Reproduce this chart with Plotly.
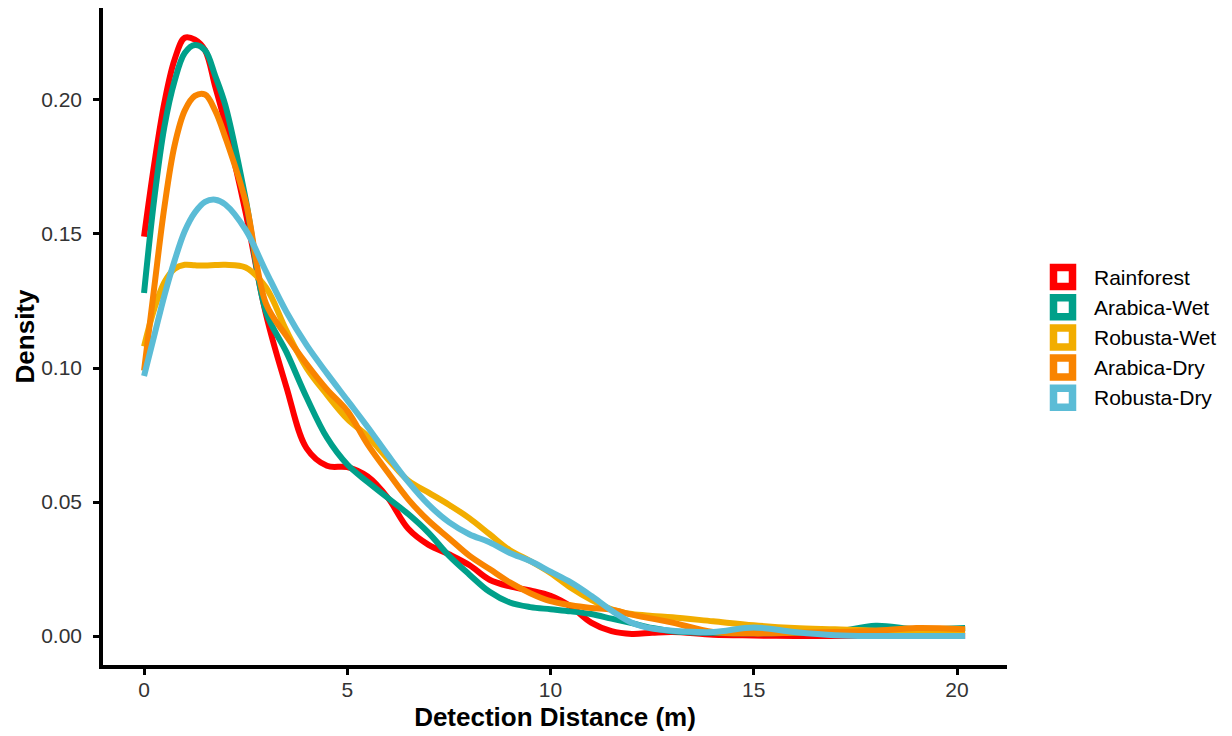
import plotly.graph_objects as go

# ---- data ----
distance = [0, 0.25, 0.5, 0.75, 1.0, 1.25, 1.5, 1.75, 2.0, 2.5, 3.0, 3.5, 4.0, 4.5, 5.0,
            5.5, 6.0, 6.5, 7.0, 7.5, 8.0, 8.5, 9.0, 9.5, 10.0, 10.5, 11.0, 11.5, 12.0,
            12.5, 13.0, 14.0, 15.0, 16.0, 17.0, 18.0, 19.0, 20.2]

rainforest = [0.149, 0.176, 0.199, 0.215, 0.2232, 0.2225, 0.2185, 0.205, 0.191, 0.158, 0.120,
              0.093, 0.070, 0.0635, 0.063, 0.0595, 0.0515, 0.040, 0.034, 0.0305, 0.0265,
              0.021, 0.0185, 0.017, 0.015, 0.011, 0.005, 0.0018, 0.0008, 0.0012, 0.0015,
              0.0005, 0.0002, 0.0, 0.0, 0.0, 0.0, 0.0]

arabica_wet = [0.128, 0.163, 0.190, 0.207, 0.2175, 0.2205, 0.2185, 0.209, 0.198, 0.163, 0.121,
               0.106, 0.089, 0.074, 0.064, 0.0575, 0.0515, 0.0455, 0.0385, 0.030, 0.023,
               0.0165, 0.0125, 0.0108, 0.0100, 0.0092, 0.0082, 0.0065, 0.0048, 0.003, 0.0018,
               0.0012, 0.001, 0.0012, 0.0015, 0.0038, 0.0025, 0.003]

robusta_wet = [0.108, 0.122, 0.132, 0.137, 0.1385, 0.1383, 0.1382, 0.1384, 0.1385, 0.1375,
               0.130, 0.114, 0.100, 0.090, 0.081, 0.0745, 0.066, 0.058, 0.0535, 0.049, 0.044,
               0.038, 0.032, 0.028, 0.0235, 0.018, 0.0135, 0.010, 0.0082, 0.0075, 0.007,
               0.0055, 0.004, 0.003, 0.0025, 0.002, 0.002, 0.002]

arabica_dry = [0.099, 0.130, 0.160, 0.183, 0.196, 0.2015, 0.202, 0.196, 0.186, 0.162, 0.124,
               0.112, 0.1015, 0.092, 0.084, 0.0715, 0.061, 0.051, 0.043, 0.0365, 0.030, 0.025,
               0.020, 0.016, 0.013, 0.0115, 0.0105, 0.0098, 0.008, 0.0065, 0.005, 0.0015,
               0.001, 0.0012, 0.0015, 0.002, 0.003, 0.0025]

robusta_dry = [0.097, 0.112, 0.127, 0.140, 0.151, 0.158, 0.162, 0.1628, 0.161, 0.1515, 0.136,
               0.121, 0.1085, 0.098, 0.088, 0.078, 0.0675, 0.0575, 0.049, 0.0425, 0.038, 0.035,
               0.031, 0.028, 0.024, 0.020, 0.015, 0.0095, 0.005, 0.0028, 0.002, 0.0015,
               0.0032, 0.0015, 0.0003, 0.0, 0.0, 0.0]

habitats = ["Rainforest", "Arabica-Wet", "Robusta-Wet", "Arabica-Dry", "Robusta-Dry"]
series = [rainforest, arabica_wet, robusta_wet, arabica_dry, robusta_dry]
colors = ["#FF0000", "#00A08A", "#F2AD00", "#F98400", "#5BBCD6"]

x_ticks = [0, 5, 10, 15, 20]
y_ticks = [0.00, 0.05, 0.10, 0.15, 0.20]

FONT = "Liberation Sans, Arial, sans-serif"
W, H = 1232, 736
ML, MR, MT, MB = 103, 225, 8, 71
PW, PH = W - ML - MR, H - MT - MB

fig = go.Figure()
for name, ys, col in zip(habitats, series, colors):
    fig.add_trace(go.Scatter(
        x=distance, y=ys, mode="lines", name=name,
        line=dict(color=col, width=6, shape="spline", smoothing=1.0),
        showlegend=False,
    ))

# legend drawn as open squares (ggplot-style density key) plus real text labels
def px_to_paper_x(px):
    return (px - ML) / PW

def px_to_paper_y(py):
    return (H - MB - py) / PH

key_cx, key_half = 1063, 9.5
first_cy, step = 277, 30.2
for i, (name, col) in enumerate(zip(habitats, colors)):
    cy = first_cy + i * step
    fig.add_shape(
        type="rect", xref="paper", yref="paper",
        x0=px_to_paper_x(key_cx - key_half), x1=px_to_paper_x(key_cx + key_half),
        y0=px_to_paper_y(cy + key_half), y1=px_to_paper_y(cy - key_half),
        line=dict(color=col, width=7.5), fillcolor="white", layer="above",
    )
    fig.add_annotation(
        text=name, xref="paper", yref="paper",
        x=px_to_paper_x(1092), y=px_to_paper_y(cy),
        xanchor="left", yanchor="middle", showarrow=False,
        font=dict(family=FONT, size=21, color="black"),
    )

fig.update_layout(
    width=W, height=H,
    paper_bgcolor="white", plot_bgcolor="white",
    margin=dict(l=ML, r=MR, t=MT, b=MB),
    font=dict(family=FONT, size=21, color="black"),
    showlegend=False,
    xaxis=dict(
        range=[-1.01, 21.23], tickvals=x_ticks, ticktext=[str(v) for v in x_ticks],
        showgrid=False, zeroline=False, automargin=False,
        showline=True, linecolor="black", linewidth=3.5,
        ticks="outside", ticklen=6, tickwidth=3, tickcolor="black",
        ticklabelstandoff=-3,
        tickfont=dict(family=FONT, size=21, color="#333333"),
        title=dict(text="<b>Detection Distance (m)</b>", standoff=9,
                   font=dict(family=FONT, size=26, color="black")),
    ),
    yaxis=dict(
        range=[-0.0108, 0.2343], tickvals=y_ticks, ticktext=[f"{v:.2f}" for v in y_ticks],
        showgrid=False, zeroline=False, automargin=False,
        showline=True, linecolor="black", linewidth=3.5,
        ticks="outside", ticklen=6, tickwidth=3, tickcolor="black",
        ticklabelstandoff=7,
        tickfont=dict(family=FONT, size=21, color="#333333"),
        title=dict(text="<b>Density</b>", standoff=0,
                   font=dict(family=FONT, size=26, color="black")),
    ),
)

fig.write_html(
    "out.html",
    config={"displayModeBar": False},
    post_script="document.body.style.margin='0';document.body.style.overflow='hidden';",
)
